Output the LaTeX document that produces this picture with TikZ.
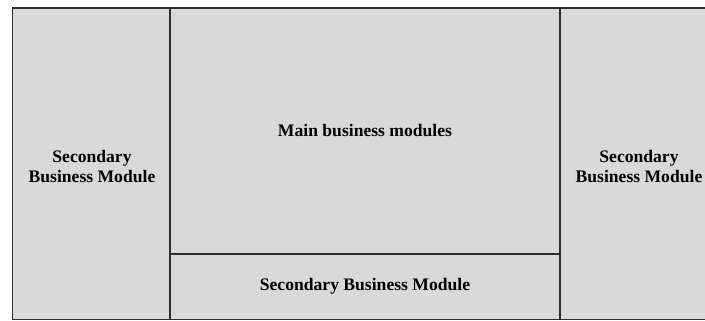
\documentclass[tikz,border=0pt]{standalone}
\usepackage{fontspec}
\setmainfont{Liberation Serif}
\begin{document}
\begin{tikzpicture}[x=1pt,y=-1pt,
  panel/.style={fill=panelgray,draw=none},
  divider/.style={draw=linegray,line width=1.6pt},
  label/.style={font=\bfseries\fontsize{17.6}{20.5}\selectfont,align=center,text=black}]
\definecolor{panelgray}{HTML}{D9D9D9}
\definecolor{linegray}{HTML}{2E2E2E}
\useasboundingbox (0,0) rectangle (705,321);
\begin{scope}
\clip (0,0) rectangle (705,321);
% background of the whole layout (extends past the right edge)
\fill[panelgray] (12.5,8) rectangle (715,319.5);
% frame and dividing lines
\draw[divider] (715,8) -- (12.5,8) -- (12.5,319.5) -- (715,319.5);
\draw[divider] (170,8) -- (170,319.5);
\draw[divider] (560,8) -- (560,319.5);
\draw[divider] (170,253.7) -- (560,253.7);
\end{scope}
% labels
\node[label] (left)   at (92,166.5)  {Secondary\\Business Module};
\node[label] (main)   at (365,130.5) {Main business modules};
\node[label] (bottom) at (365,286)   {Secondary Business Module};
\node[label] (right)  at (639,166.5) {Secondary\\Business Module};
\end{tikzpicture}
\end{document}
